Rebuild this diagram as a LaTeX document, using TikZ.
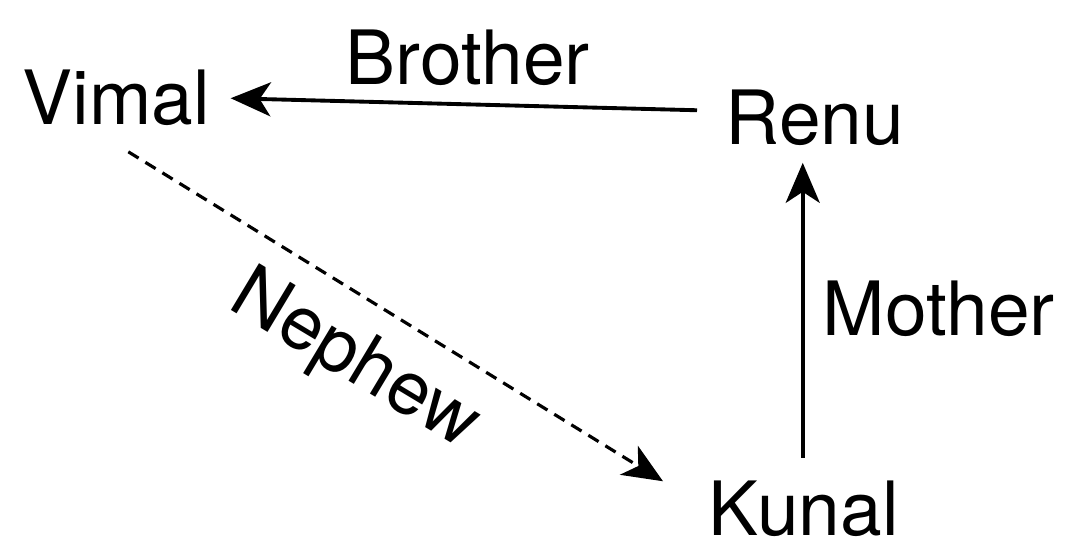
\documentclass[tikz,border=0pt]{standalone}
\usepackage{fontspec}
\setmainfont{TeX Gyre Heros}
\usetikzlibrary{arrows.meta,calc}
\tikzset{
  txt/.style={inner sep=0pt, font=\fontsize{21.3pt}{25pt}\selectfont},
  lbl/.style={txt, anchor=base west},
  arr/.style={line width=1.1pt, -{Stealth[length=0.4cm,width=0.34cm,inset=0.11cm]}},
  dsh/.style={arr, line width=0.9pt, dash pattern=on 0.12cm off 0.08cm}
}
\begin{document}
\begin{tikzpicture}[x=0.01cm,y=-0.01cm]
\useasboundingbox (0,0) rectangle (1065,555);
\node[lbl] (Vimal) at (22,125) {Vimal};
\node[lbl] (Renu) at (725,145) {Renu};
\node[lbl] (Kunal) at (708,535) {Kunal};
\node[lbl] (Brother) at (345,85) {Brother};
\node[lbl] (Mother) at (822,335) {Mother};
\node[txt, rotate=-31] (Nephew) at (354,362) {Nephew};
\coordinate (b1) at ($(Renu.west)+(-28,-8)$);
\coordinate (b2) at ($(Vimal.east)+(20,0)$);
\draw[arr] (b1) -- (b2);
\coordinate (m1) at ($(Kunal.north)+(-1,-22)$);
\coordinate (m2) at ($(Renu.south)+(0,16)$);
\draw[arr] (m1) -- (m1 |- m2);
\coordinate (d1) at ($(Vimal.south)+(12,25)$);
\coordinate (d2) at ($(Kunal.west)+(-45,-27)$);
\draw[dsh] (d1) -- (d2);
\end{tikzpicture}
\end{document}
